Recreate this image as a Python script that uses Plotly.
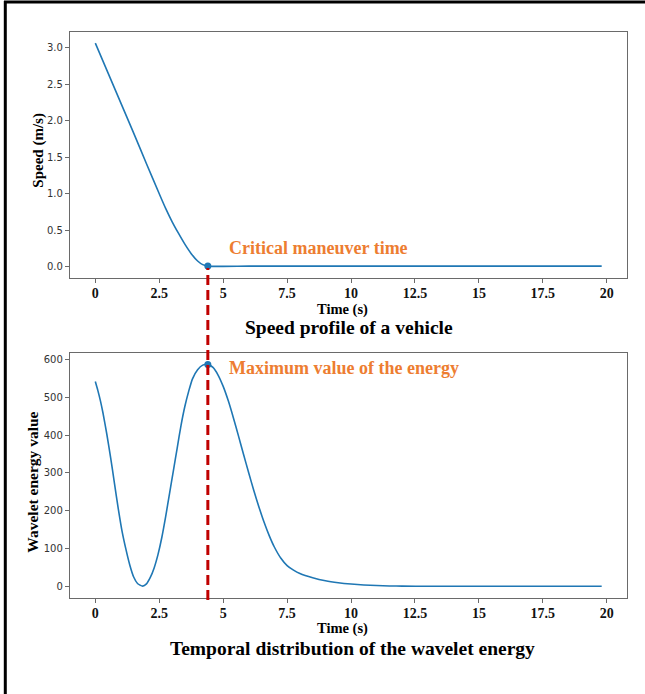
import plotly.graph_objects as go

# ---------------- data ----------------
speed_t = [0, 0.5, 1.0, 1.5, 2.0, 2.5, 2.75, 3.0, 3.25, 3.5, 3.75, 4.0, 4.2, 4.4,
           6, 8, 10, 12, 14, 16, 18, 19.8]
speed_v = [3.06, 2.65, 2.24, 1.83, 1.41, 1.00, 0.80, 0.62, 0.46, 0.31, 0.18, 0.08, 0.03, 0.01,
           0.01, 0.01, 0.01, 0.01, 0.01, 0.01, 0.01, 0.01]

energy_t = [0, 0.1, 0.2, 0.3, 0.45, 0.6, 0.75, 0.9, 1.05, 1.2, 1.35, 1.5, 1.65, 1.85,
            2.0, 2.15, 2.3, 2.45, 2.6, 2.75, 2.9, 3.05, 3.2, 3.35, 3.5, 3.65, 3.8, 4.0,
            4.2, 4.4, 4.6, 4.8, 5.0, 5.2, 5.4, 5.6, 5.8, 6.0, 6.2, 6.4, 6.6, 6.8, 7.0,
            7.25, 7.5, 7.75, 8.0, 8.5, 9.0, 9.5, 10.0, 10.5, 11.0, 11.5, 12.0, 13.0,
            15.0, 17.0, 19.8]
energy_v = [541, 517, 490, 458, 402, 340, 272, 205, 145, 98, 57, 26, 9, 2,
            8, 25, 50, 85, 130, 185, 245, 305, 365, 425, 475, 515, 548, 572,
            584, 586, 578, 558, 528, 490, 445, 397, 348, 300, 253, 210, 170, 135, 105,
            76, 56, 44, 35, 24, 16, 11, 7.5, 5, 3.5, 2.5, 2, 1.5,
            1.5, 1.5, 1.5]

critical_t = 4.4
critical_speed = 0.01
max_energy = 586

x_tickvals = [0, 2.5, 5, 7.5, 10, 12.5, 15, 17.5, 20]
x_ticktext = ["0", "2.5", "5", "7.5", "10", "12.5", "15", "17.5", "20"]

# ---------------- layout helpers ----------------
W, H = 645, 694
ML, MR, MT, MB = 70, 18, 32, 96
PW, PH = W - ML - MR, H - MT - MB


def px(x):
    return (x - ML) / PW


def py(y):
    return (H - MB - y) / PH


BLUE = "#1f77b4"
ORANGE = "#ED7D31"
RED = "#C00000"
SERIF = "Liberation Serif, Times New Roman, serif"
SANS = "DejaVu Sans, sans-serif"

fig = go.Figure()
line_style = dict(color=BLUE, width=1.6, shape="spline", smoothing=0.6)
fig.add_trace(go.Scatter(x=speed_t, y=speed_v, mode="lines", line=line_style,
                         xaxis="x", yaxis="y", showlegend=False, hoverinfo="skip"))
fig.add_trace(go.Scatter(x=energy_t, y=energy_v, mode="lines", line=line_style,
                         xaxis="x2", yaxis="y2", showlegend=False, hoverinfo="skip"))
fig.add_trace(go.Scatter(x=[critical_t], y=[critical_speed], mode="markers", marker=dict(color=BLUE, size=7),
                         xaxis="x", yaxis="y", showlegend=False, hoverinfo="skip"))
fig.add_trace(go.Scatter(x=[critical_t], y=[max_energy], mode="markers", marker=dict(color=BLUE, size=7),
                         xaxis="x2", yaxis="y2", showlegend=False, hoverinfo="skip"))

axis_common = dict(showline=True, linecolor="#6a6a6a", linewidth=1.3, mirror=True,
                   ticks="outside", ticklen=4, tickcolor="#6a6a6a", showgrid=False, zeroline=False)
xcommon = dict(axis_common, range=[-0.99, 20.79], tickvals=x_tickvals, ticktext=x_ticktext,
               ticklabelstandoff=-2,
               tickfont=dict(family=SERIF, size=14, color="#111", weight="bold"))
ycommon = dict(axis_common, tickfont=dict(family=SANS, size=10, color="#333"))

top_dom = [py(278), py(32)]
bot_dom = [py(598), py(353)]

fig.update_layout(
    width=W, height=H,
    margin=dict(l=ML, r=MR, t=MT, b=MB),
    paper_bgcolor="white", plot_bgcolor="white",
    xaxis=dict(xcommon, domain=[0, 1], anchor="y"),
    yaxis=dict(ycommon, domain=top_dom, anchor="x", range=[-0.153, 3.213],
               tickvals=[0, 0.5, 1.0, 1.5, 2.0, 2.5, 3.0], tickformat=".1f"),
    xaxis2=dict(xcommon, domain=[0, 1], anchor="y2"),
    yaxis2=dict(ycommon, domain=bot_dom, anchor="x2", range=[-29.3, 616],
                tickvals=[0, 100, 200, 300, 400, 500, 600]),
)

# dashed red vertical line linking the two panels
fig.add_shape(type="line", xref="x", yref="paper", x0=critical_t, x1=critical_t,
              y0=py(600), y1=py(268), line=dict(color=RED, width=3, dash="10px,5px"))

# outer frame lines (left and top)
fig.add_shape(type="line", xref="paper", yref="paper", x0=px(5.3), x1=px(5.3), y0=py(1), y1=py(694),
              line=dict(color="black", width=3))
fig.add_shape(type="line", xref="paper", yref="paper", x0=px(4), x1=px(645), y0=py(2), y1=py(2),
              line=dict(color="black", width=3))

ann = []
ann.append(dict(text="<b>Critical maneuver time</b>", x=px(227), y=py(247.5), xanchor="left", yanchor="middle",
                font=dict(family=SERIF, size=18, color=ORANGE)))
ann.append(dict(text="<b>Maximum value of the energy</b>", x=px(226.5), y=py(367.5), xanchor="left", yanchor="middle",
                font=dict(family=SERIF, size=18, color=ORANGE)))
ann.append(dict(text="<b>Speed profile of a vehicle</b>", x=px(349), y=py(328), xanchor="center", yanchor="middle",
                font=dict(family=SERIF, size=19.5, color="black")))
ann.append(dict(text="<b>Temporal distribution of the wavelet energy</b>", x=px(352.5), y=py(648), xanchor="center",
                yanchor="middle", font=dict(family=SERIF, size=19.5, color="black")))
ann.append(dict(text="<b>Time (s)</b>", x=px(342), y=py(309), xanchor="center", yanchor="middle",
                font=dict(family=SERIF, size=14.5, color="black")))
ann.append(dict(text="<b>Time (s)</b>", x=px(342), y=py(628.5), xanchor="center", yanchor="middle",
                font=dict(family=SERIF, size=14.5, color="black")))
ann.append(dict(text="<b>Speed (m/s)</b>", x=px(37.7), y=py(150), xanchor="center", yanchor="middle", textangle=-90,
                font=dict(family=SERIF, size=15, color="black")))
ann.append(dict(text="<b>Wavelet energy value</b>", x=px(31.7), y=py(482), xanchor="center", yanchor="middle",
                textangle=-90, font=dict(family=SERIF, size=15.5, color="black")))
for a in ann:
    a.update(xref="paper", yref="paper", showarrow=False)
fig.update_layout(annotations=ann)

# remove the default page body margin so the figure sits at the window's top-left corner
fig.write_html("out.html", config={"displayModeBar": False},
               post_script="document.body.style.margin='0px';")
